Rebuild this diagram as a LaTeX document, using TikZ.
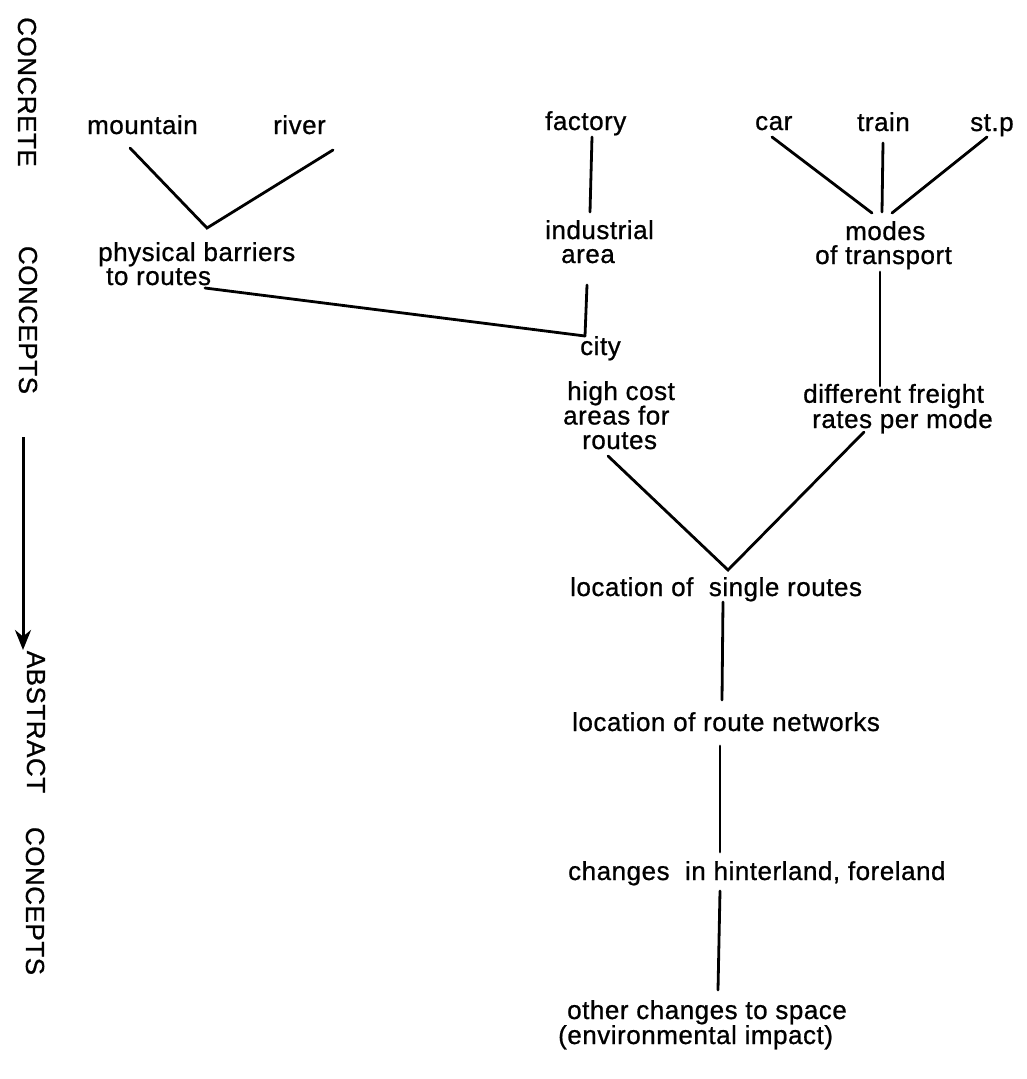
\documentclass[tikz,border=0pt]{standalone}
\usepackage{fontspec}
\setmainfont{Liberation Sans}[LetterSpace=2,FakeBold=0.8]
\usetikzlibrary{arrows.meta}
\begin{document}
\begin{tikzpicture}[x=1pt,y=-1pt,
  lab/.style={anchor=base west,inner sep=0pt,font=\fontsize{26}{22}\selectfont},
  multi/.style={lab,align=left},
  side/.style={inner sep=0pt,rotate=-90,font=\fontsize{26}{26}\selectfont},
  ln/.style={line width=2.8pt,line cap=round},
  axisarrow/.style={line width=3pt,-{Stealth[length=20pt,width=16pt]}}]
\path[use as bounding box,fill=white] (0,0) rectangle (1026,1079);

% side labels
\node[side] (concrete) at (27,92) {CONCRETE};
\node[side] (concepts1) at (28,320) {CONCEPTS};
\node[side] (abstract) at (36,722) {ABSTRACT};
\node[side] (concepts2) at (35,901) {CONCEPTS};
\coordinate (arrS) at (23,437);
\coordinate (arrE) at (23,650);
\draw[axisarrow] (arrS) -- (arrE);

% top row
\node[lab] (mountain) at (87,134) {mountain};
\node[lab] (river) at (273,134) {river};
\node[lab] (factory) at (545,130) {factory};
\node[lab] (car) at (755,130) {car};
\node[lab] (train) at (857,131) {train};
\node[lab] (stp) at (970,131) {st.p};

% second row (anchor = baseline of the last line)
\node[multi,font=\fontsize{26}{24}\selectfont] (phys) at (98,285) {physical barriers\\\hspace*{8pt}to routes};
\node[multi,font=\fontsize{26}{24}\selectfont] (ind) at (545,263) {industrial\\\hspace*{16pt}area};
\node[multi,font=\fontsize{26}{24}\selectfont] (modes) at (815,264) {\hspace*{30pt}modes\\of transport};
\node[lab] (city) at (580,355) {city};

% third row
\node[multi,font=\fontsize{26}{24.5}\selectfont] (hc) at (563,449) {\hspace*{4pt}high cost\\areas for\\\hspace*{19pt}routes};
\node[multi,font=\fontsize{26}{24}\selectfont] (fr) at (803,428) {different freight\\\hspace*{9pt}rates per mode};

% chain
\node[lab] (single) at (570,596) {location of \ single routes};
\node[lab] (network) at (572,731) {location of route networks};
\node[lab] (hinter) at (568,880) {changes \ in hinterland, foreland};
\node[multi,font=\fontsize{26}{25}\selectfont] (space) at (558,1044) {\hspace*{9pt}other changes to space\\(environmental impact)};

% connector end points
\coordinate (mountain-b) at (130,148);
\coordinate (river-b) at (333,150);
\coordinate (phys-t) at (207,228);
\coordinate (phys-b) at (205,288);
\coordinate (factory-b) at (592,137);
\coordinate (ind-t) at (590,212);
\coordinate (ind-b) at (587,285);
\coordinate (city-t) at (585,336);
\coordinate (car-b) at (772,137);
\coordinate (train-b) at (883,143);
\coordinate (stp-b) at (987,137);
\coordinate (modes-t) at (882,212);
\coordinate (modes-tl) at (872,213);
\coordinate (modes-tr) at (892,213);
\coordinate (modes-b) at (880,272);
\coordinate (fr-t) at (880,386);
\coordinate (fr-b) at (864,432);
\coordinate (hc-b) at (608,456);
\coordinate (single-t) at (728,570);
\coordinate (single-b) at (723,602);
\coordinate (network-t) at (722,700);
\coordinate (network-b) at (720,746);
\coordinate (hinter-t) at (720,852);
\coordinate (hinter-b) at (720,891);
\coordinate (space-t) at (718,990);

\draw[ln] (mountain-b) -- (phys-t) -- (river-b);
\draw[ln] (phys-b) -- (city-t);
\draw[ln] (factory-b) -- (ind-t);
\draw[ln] (ind-b) -- (city-t);
\draw[ln] (car-b) -- (modes-tl);
\draw[ln] (train-b) -- (modes-t);
\draw[ln] (stp-b) -- (modes-tr);
\draw[ln] (modes-b) -- (fr-t);
\draw[ln] (hc-b) -- (single-t) -- (fr-b);
\draw[ln] (single-b) -- (network-t);
\draw[ln] (network-b) -- (hinter-t);
\draw[ln] (hinter-b) -- (space-t);
\end{tikzpicture}
\end{document}
